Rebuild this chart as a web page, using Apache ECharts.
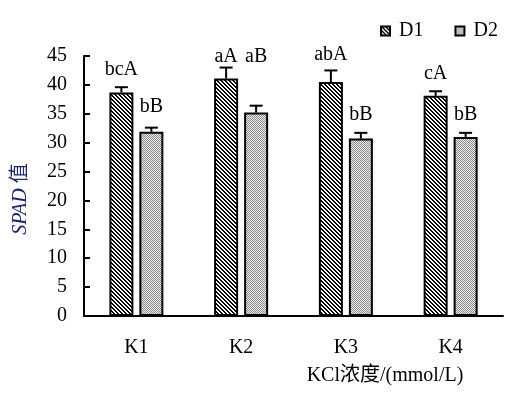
<!DOCTYPE html>
<html>
<head>
<meta charset="utf-8">
<script src="https://cdn.jsdelivr.net/npm/echarts@6/dist/echarts.min.js"></script>
<style>
  html, body { margin: 0; padding: 0; background: #fff; }
  #chart { width: 526px; height: 396px; }
</style>
</head>
<body>
<div id="chart"></div>
<script>
// 数据
var categories = ['K1', 'K2', 'K3', 'K4'];
var seriesNames = ['D1', 'D2'];
var d1Values = [38.7, 41.1, 40.5, 38.1];
var d1Errors = [0.9, 1.9, 2.0, 0.8];
var d1Letters = ['bcA', 'aA', 'abA', 'cA'];
var d1LetterAt = [42.6, 44.8, 45.2, 42.0];
var d2Values = [31.9, 35.2, 30.7, 31.0];
var d2Errors = [0.7, 1.2, 1.0, 0.7];
var d2Letters = ['bB', 'aB', 'bB', 'bB'];
var d2LetterAt = [36.2, 44.8, 34.9, 34.9];
var yTicks = [0, 5, 10, 15, 20, 25, 30, 35, 40, 45];

var FONT = "'Liberation Serif', 'Noto Sans CJK SC', serif";
var FS = 20;
var BAR_W = 24;
var BAR_OFF = 15; // 两根柱子中心到类目中心的距离

// 斜线填充
function stripeTile() {
    var c = document.createElement('canvas');
    c.width = c.height = 4;
    var ctx = c.getContext('2d');
    ctx.fillStyle = '#fff';
    ctx.fillRect(0, 0, 4, 4);
    ctx.fillStyle = '#000';
    for (var y = 0; y < 4; y++) {
        for (var x = 0; x < 4; x++) {
            if ((x - y + 8) % 4 < 2) ctx.fillRect(x, y, 1, 1);
        }
    }
    return c;
}
// 灰色网点填充
function dotTile() {
    var c = document.createElement('canvas');
    c.width = c.height = 2;
    var ctx = c.getContext('2d');
    ctx.fillStyle = '#eeeeee';
    ctx.fillRect(0, 0, 2, 2);
    ctx.fillStyle = '#8a8a8a';
    ctx.fillRect(0, 0, 1, 1);
    ctx.fillRect(1, 1, 1, 1);
    return c;
}

var fills = [
    { image: stripeTile(), repeat: 'repeat' },
    { image: dotTile(), repeat: 'repeat' }
];

function errData(values, errors, at) {
    var out = [];
    for (var i = 0; i < values.length; i++) {
        out.push([i, values[i], errors[i], at[i]]);
    }
    return out;
}

function errRender(offset, letters) {
    return function (params, api) {
        var i = api.value(0);
        var v = api.value(1);
        var e = api.value(2);
        var base = api.coord([i, v]);
        var top = api.coord([i, v + e]);
        var lab = api.coord([i, api.value(3)]);
        var x = base[0] + offset;
        return {
            type: 'group',
            children: [
                { type: 'line', shape: { x1: x, y1: base[1], x2: x, y2: top[1] },
                  style: { stroke: '#000', lineWidth: 2 } },
                { type: 'line', shape: { x1: x - 6.5, y1: top[1], x2: x + 6.5, y2: top[1] },
                  style: { stroke: '#000', lineWidth: 2 } },
                { type: 'text', x: x, y: lab[1],
                  style: { text: letters[params.dataIndex], font: FS + 'px ' + FONT, fill: '#000',
                           align: 'center', verticalAlign: 'middle' } }
            ]
        };
    };
}

var chart = echarts.init(document.getElementById('chart'));
chart.setOption({
    animation: false,
    backgroundColor: '#fff',
    textStyle: { fontFamily: FONT },
    grid: { left: 84, right: 23, top: 56, bottom: 80 },
    legend: {
        data: seriesNames,
        left: 380,
        top: 21,
        padding: 0,
        itemWidth: 9,
        itemHeight: 9,
        itemGap: 31,
        icon: 'rect',
        textStyle: { fontSize: FS, color: '#000', fontFamily: FONT, padding: [0, 0, 0, 4] }
    },
    xAxis: {
        type: 'category',
        data: categories,
        name: 'KCl浓度/(mmol/L)',
        nameLocation: 'middle',
        nameGap: 50,
        nameTextStyle: { fontSize: FS, color: '#000', fontFamily: FONT, padding: [0, 0, 0, 183] },
        axisLine: { lineStyle: { color: '#000', width: 2 } },
        axisTick: { inside: true, length: 6, lineStyle: { color: '#000', width: 2 } },
        axisLabel: { fontSize: FS, color: '#000', margin: 22, fontFamily: FONT },
        splitLine: { show: false }
    },
    yAxis: {
        type: 'value',
        min: yTicks[0],
        max: yTicks[yTicks.length - 1],
        interval: 5,
        name: '{i|SPAD} 值',
        nameLocation: 'middle',
        nameGap: 53,
        nameTextStyle: {
            fontSize: FS, color: '#1c2470', fontFamily: FONT, padding: [0, 26, 0, 0],
            rich: { i: { fontStyle: 'italic', fontSize: FS, color: '#1c2470', fontFamily: FONT } }
        },
        axisLine: { show: true, lineStyle: { color: '#000', width: 2 } },
        axisTick: { show: true, inside: true, length: 6, lineStyle: { color: '#000', width: 2 } },
        axisLabel: { fontSize: FS, color: '#000', margin: 17, fontFamily: FONT },
        splitLine: { show: false }
    },
    series: [
        {
            name: seriesNames[0], type: 'bar', data: d1Values,
            barWidth: BAR_W, barGap: '25%',
            itemStyle: { color: fills[0], borderColor: '#000', borderWidth: 2 }
        },
        {
            name: seriesNames[1], type: 'bar', data: d2Values,
            barWidth: BAR_W,
            itemStyle: { color: fills[1], borderColor: '#000', borderWidth: 2 }
        },
        {
            type: 'custom', clip: false, z: 5,
            renderItem: errRender(-BAR_OFF, d1Letters),
            data: errData(d1Values, d1Errors, d1LetterAt)
        },
        {
            type: 'custom', clip: false, z: 5,
            renderItem: errRender(BAR_OFF, d2Letters),
            data: errData(d2Values, d2Errors, d2LetterAt)
        }
    ]
});
</script>
</body>
</html>
